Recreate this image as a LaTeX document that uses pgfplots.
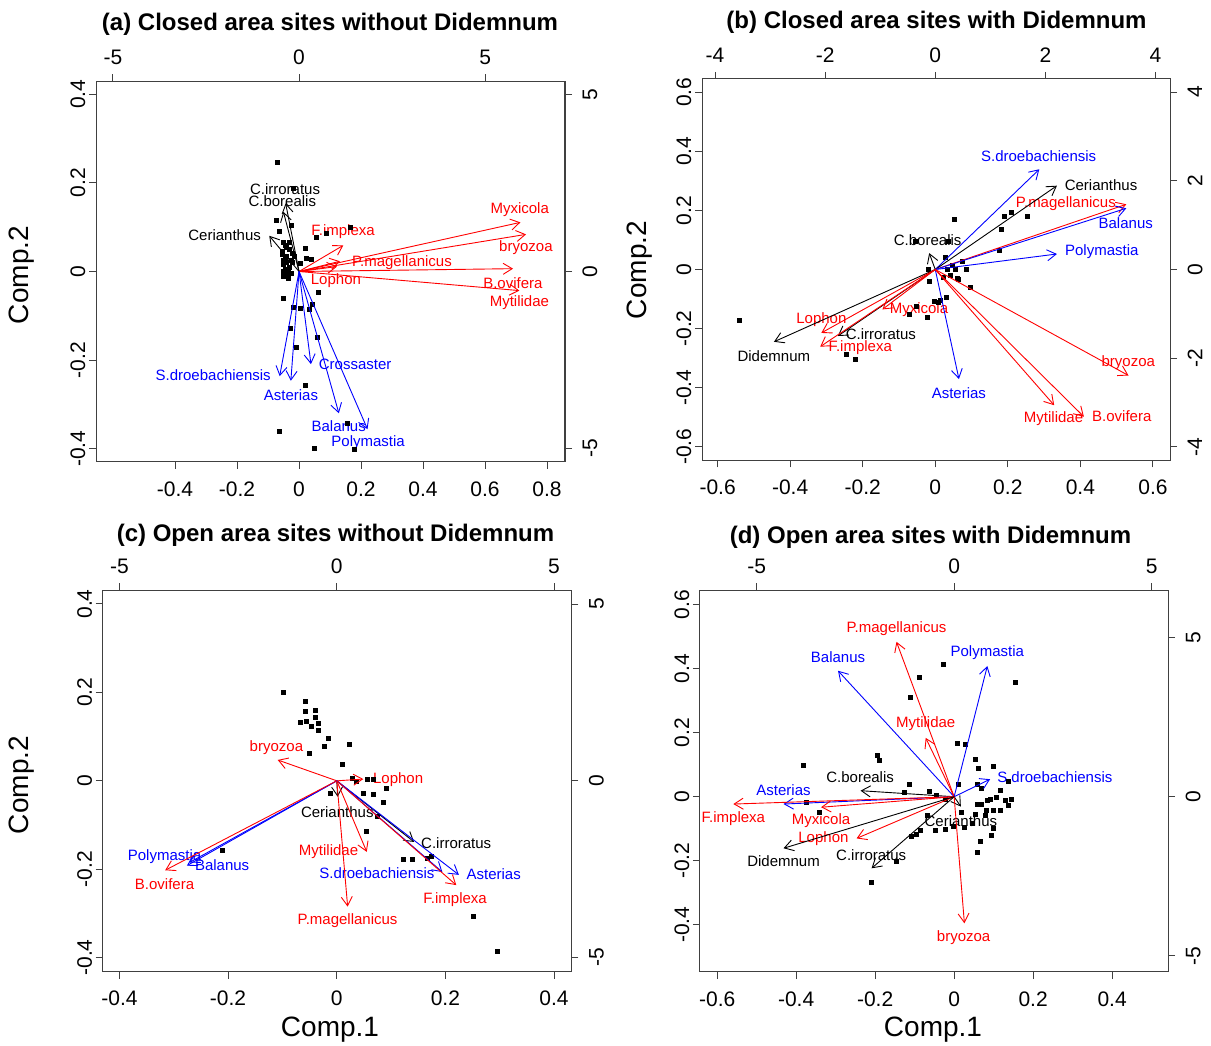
\documentclass[border=0pt]{standalone}
\usepackage{fontspec}
\setmainfont{Liberation Sans}
\usepackage{pgfplots}
\pgfplotsset{compat=1.18}
\usetikzlibrary{arrows.meta}

\pgfplotsset{
  biplot base/.style={
    scale only axis, clip=false, scaled ticks=false,
    tick align=outside, major tick length=3.5pt,
    axis line style={black!75, line width=0.5pt},
    every tick/.style={black!75, line width=0.5pt},
    tick label style={font=\fontsize{10.5}{12}\selectfont, inner sep=0pt},
    /pgf/number format/assume math mode=true,
  },
  comp axis/.style={biplot base,
    xtick pos=left, ytick pos=left,
    xticklabel style={anchor=center}, xticklabel shift=10pt,
    yticklabel style={rotate=90, anchor=center}, yticklabel shift=5.5pt,
  },
  load axis/.style={biplot base,
    axis x line*=top, axis y line*=right,
    xticklabel style={anchor=center}, xticklabel shift=8.5pt,
    yticklabel style={rotate=90, anchor=center}, yticklabel shift=9pt,
  },
  arr/.style={line width=0.45pt, -{Straight Barb[length=4.5pt,width=5.5pt]}},
  pts/.style={only marks, mark=square*, mark size=1pt, black},
}
\tikzset{lab/.style={font=\fontsize{7.5}{9}\selectfont, inner sep=0pt}}

\begin{document}
\begin{tikzpicture}
\path[use as bounding box] (0,0) rectangle (605.5pt,522.5pt);

% ---------- (a) ----------
\begin{axis}[comp axis, at={(48pt,291.5pt)}, anchor=south west,
  width=234.5pt, height=190.5pt,
  xmin=-0.655, xmax=0.858, ymin=-0.43, ymax=0.43,
  xtick={-0.4,-0.2,0,0.2,0.4,0.6,0.8}, ytick={-0.4,-0.2,0,0.2,0.4}]
\addplot[pts] coordinates {
 (-0.069,0.246) (-0.018,0.188) (-0.073,0.115) (-0.026,0.104) (0.166,0.099)
 (0.087,0.085) (0.057,0.076) (-0.063,0.090) (-0.051,0.066) (0.021,0.053)
 (0.023,0.030) (0.041,0.028) (0.005,0.019) (-0.026,-0.004) (-0.053,0.038)
 (-0.03,0.05) (-0.02,0.04) (-0.04,0.035) (-0.045,0.03) (-0.04,0.02)
 (-0.05,0.015) (-0.03,0.01) (-0.045,0.005) (-0.05,0.0) (-0.04,-0.005)
 (-0.05,-0.01) (-0.035,-0.015) (-0.025,0.025) (-0.015,0.035) (-0.055,0.045)
 (-0.04,0.055) (-0.03,0.065) (-0.02,0.02) (-0.035,0.0) (-0.045,0.06) (-0.05,0.025)
 (-0.051,-0.060) (-0.018,-0.080) (0.005,-0.083) (0.063,-0.047) (0.042,-0.075)
 (0.033,-0.086) (-0.029,-0.128) (0.058,-0.148) (-0.010,-0.171) (0.019,-0.258)
 (-0.063,-0.361) (0.156,-0.344) (0.050,-0.399) (0.180,-0.402)
};
\node[lab,red] at (axis cs:0.712,0.139) {Myxicola};
\node[lab,red] at (axis cs:0.732,0.054) {bryozoa};
\node[lab,red] at (axis cs:0.142,0.090) {F.implexa};
\node[lab,red] at (axis cs:0.332,0.020) {P.magellanicus};
\node[lab,red] at (axis cs:0.119,-0.021) {Lophon};
\node[lab,red] at (axis cs:0.69,-0.026) {B.ovifera};
\node[lab,red] at (axis cs:0.711,-0.071) {Mytilidae};
\node[lab] at (axis cs:-0.045,0.187) {C.irroratus};
\node[lab] at (axis cs:-0.054,0.159) {C.borealis};
\node[lab] at (axis cs:-0.24,0.081) {Cerianthus};
\node[lab,blue] at (axis cs:-0.277,-0.235) {S.droebachiensis};
\node[lab,blue] at (axis cs:-0.026,-0.28) {Asterias};
\node[lab,blue] at (axis cs:0.181,-0.209) {Crossaster};
\node[lab,blue] at (axis cs:0.128,-0.35) {Balanus};
\node[lab,blue] at (axis cs:0.223,-0.387) {Polymastia};
\end{axis}
\begin{axis}[load axis, at={(48pt,291.5pt)}, anchor=south west,
  width=234.5pt, height=190.5pt,
  xmin=-5.456, xmax=7.147, ymin=-5.388, ymax=5.388,
  xtick={-5,0,5}, ytick={-5,0,5}]
\addplot[arr,red] coordinates {(0,0) (5.95,1.39)};
\addplot[arr,red] coordinates {(0,0) (6.10,1.05)};
\addplot[arr,red] coordinates {(0,0) (1.19,0.74)};
\addplot[arr,red] coordinates {(0,0) (1.10,0.29)};
\addplot[arr,red] coordinates {(0,0) (1.02,0.14)};
\addplot[arr,red] coordinates {(0,0) (5.75,0.08)};
\addplot[arr,red] coordinates {(0,0) (5.92,-0.54)};
\addplot[arr,black] coordinates {(0,0) (-0.36,1.93)};
\addplot[arr,black] coordinates {(0,0) (-0.42,1.69)};
\addplot[arr,black] coordinates {(0,0) (-0.80,1.01)};
\addplot[arr,blue] coordinates {(0,0) (-0.52,-2.96)};
\addplot[arr,blue] coordinates {(0,0) (-0.22,-3.09)};
\addplot[arr,blue] coordinates {(0,0) (0.32,-2.62)};
\addplot[arr,blue] coordinates {(0,0) (1.07,-4.01)};
\addplot[arr,blue] coordinates {(0,0) (1.84,-4.46)};
\end{axis}

% ---------- (b) ----------
\begin{axis}[comp axis, at={(351pt,292.35pt)}, anchor=south west,
  width=234pt, height=190.65pt,
  xmin=-0.643, xmax=0.647, ymin=-0.646, ymax=0.645,
  xtick={-0.6,-0.4,-0.2,0,0.2,0.4,0.6}, ytick={-0.6,-0.4,-0.2,0,0.2,0.4,0.6}]
\addplot[pts] coordinates {
 (0.054,0.171) (0.19,0.181) (0.21,0.192) (0.253,0.179) (0.181,0.136) (0.176,0.064)
 (0.035,0.095) (-0.055,0.095)
 (-0.019,0.001) (0.027,0.041) (0.034,0.001) (0.046,0.015) (0.055,0.002) (0.075,0.026)
 (0.085,0.002) (0.021,-0.026) (0.043,-0.019) (0.06,-0.03) (0.064,-0.033) (-0.016,-0.041)
 (0.096,-0.06) (-0.003,-0.109) (0.014,-0.106) (0.03,-0.094) (0.009,-0.112)
 (-0.071,-0.152) (-0.023,-0.163) (-0.052,-0.126)
 (-0.54,-0.172) (-0.244,-0.287) (-0.22,-0.306)
};
\node[lab,blue] at (axis cs:0.285,0.385) {S.droebachiensis};
\node[lab] at (axis cs:0.457,0.286) {Cerianthus};
\node[lab,red] at (axis cs:0.36,0.224) {P.magellanicus};
\node[lab,blue] at (axis cs:0.525,0.158) {Balanus};
\node[lab,blue] at (axis cs:0.459,0.062) {Polymastia};
\node[lab] at (axis cs:-0.021,0.10) {C.borealis};
\node[lab] at (axis cs:-0.445,-0.293) {Didemnum};
\node[lab,red] at (axis cs:-0.314,-0.169) {Lophon};
\node[lab] at (axis cs:-0.15,-0.220) {C.irroratus};
\node[lab,red] at (axis cs:-0.207,-0.266) {F.implexa};
\node[lab,red] at (axis cs:-0.045,-0.137) {Myxicola};
\node[lab,blue] at (axis cs:0.065,-0.419) {Asterias};
\node[lab,red] at (axis cs:0.532,-0.314) {bryozoa};
\node[lab,red] at (axis cs:0.326,-0.506) {Mytilidae};
\node[lab,red] at (axis cs:0.514,-0.498) {B.ovifera};
\end{axis}
\begin{axis}[load axis, at={(351pt,292.35pt)}, anchor=south west,
  width=234pt, height=190.65pt,
  xmin=-4.237, xmax=4.264, ymin=-4.302, ymax=4.296,
  xtick={-4,-2,0,2,4}, ytick={-4,-2,0,2,4}]
\addplot[arr,blue] coordinates {(0,0) (1.89,2.26)};
\addplot[arr,black] coordinates {(0,0) (2.21,1.89)};
\addplot[arr,red] coordinates {(0,0) (3.47,1.47)};
\addplot[arr,blue] coordinates {(0,0) (3.47,1.38)};
\addplot[arr,blue] coordinates {(0,0) (2.21,0.35)};
\addplot[arr,black] coordinates {(0,0) (-0.11,0.37)};
\addplot[arr,black] coordinates {(0,0) (-2.93,-1.63)};
\addplot[arr,red] coordinates {(0,0) (-2.07,-1.43)};
\addplot[arr,black] coordinates {(0,0) (-1.77,-1.50)};
\addplot[arr,red] coordinates {(0,0) (-2.09,-1.74)};
\addplot[arr,red] coordinates {(0,0) (-0.96,-0.90)};
\addplot[arr,blue] coordinates {(0,0) (0.43,-2.47)};
\addplot[arr,red] coordinates {(0,0) (3.51,-2.39)};
\addplot[arr,red] coordinates {(0,0) (2.16,-3.06)};
\addplot[arr,red] coordinates {(0,0) (2.70,-3.32)};
\end{axis}

% ---------- (c) ----------
\begin{axis}[comp axis, at={(51.3pt,36.65pt)}, anchor=south west,
  width=234.4pt, height=190.7pt,
  xmin=-0.431, xmax=0.432, ymin=-0.432, ymax=0.431,
  xtick={-0.4,-0.2,0,0.2,0.4}, ytick={-0.4,-0.2,0,0.2,0.4}]
\addplot[pts] coordinates {
 (-0.099,0.199) (-0.058,0.18) (-0.058,0.157) (-0.04,0.159) (-0.067,0.133)
 (-0.056,0.135) (-0.046,0.122) (-0.04,0.143) (-0.034,0.13) (-0.034,0.115)
 (-0.015,0.097) (-0.023,0.078) (0.023,0.083) (-0.051,0.063) (0.01,0.038)
 (0.029,0.005) (0.037,-0.002) (0.056,0.002) (0.067,0.004) (-0.011,-0.029)
 (0.05,-0.029) (0.067,-0.031) (0.092,-0.017) (0.086,-0.05) (0.075,-0.081)
 (0.055,-0.115) (0.122,-0.178) (0.14,-0.178) (0.167,-0.176) (0.175,-0.172)
 (-0.21,-0.157) (0.251,-0.308) (0.296,-0.387)
};
\node[lab,red] at (axis cs:-0.111,0.076) {bryozoa};
\node[lab,red] at (axis cs:0.113,0.003) {Lophon};
\node[lab] at (axis cs:0.001,-0.07) {Cerianthus};
\node[lab] at (axis cs:0.22,-0.142) {C.irroratus};
\node[lab,red] at (axis cs:-0.015,-0.161) {Mytilidae};
\node[lab,blue] at (axis cs:0.074,-0.208) {S.droebachiensis};
\node[lab,blue] at (axis cs:0.289,-0.212) {Asterias};
\node[lab,red] at (axis cs:0.218,-0.268) {F.implexa};
\node[lab,red] at (axis cs:0.02,-0.317) {P.magellanicus};
\node[lab,blue] at (axis cs:-0.317,-0.172) {Polymastia};
\node[lab,blue] at (axis cs:-0.211,-0.191) {Balanus};
\node[lab,red] at (axis cs:-0.317,-0.234) {B.ovifera};
\end{axis}
\begin{axis}[load axis, at={(51.3pt,36.65pt)}, anchor=south west,
  width=234.4pt, height=190.7pt,
  xmin=-5.39, xmax=5.40, ymin=-5.40, ymax=5.39,
  xtick={-5,0,5}, ytick={-5,0,5}]
\addplot[arr,red] coordinates {(0,0) (-1.36,0.59)};
\addplot[arr,red] coordinates {(0,0) (0.61,0.05)};
\addplot[arr,black] coordinates {(0,0) (0.02,-0.45)};
\addplot[arr,black] coordinates {(0,0) (1.78,-1.73)};
\addplot[arr,red] coordinates {(0,0) (0.69,-2.01)};
\addplot[arr,blue] coordinates {(0,0) (2.43,-2.58)};
\addplot[arr,blue] coordinates {(0,0) (2.81,-2.66)};
\addplot[arr,red] coordinates {(0,0) (2.75,-2.95)};
\addplot[arr,red] coordinates {(0,0) (0.25,-3.56)};
\addplot[arr,blue] coordinates {(0,0) (-3.39,-2.31)};
\addplot[arr,blue] coordinates {(0,0) (-3.45,-2.40)};
\addplot[arr,red] coordinates {(0,0) (-3.95,-2.53)};
\end{axis}

% ---------- (d) ----------
\begin{axis}[comp axis, at={(349.9pt,36.5pt)}, anchor=south west,
  width=234.2pt, height=190.85pt,
  xmin=-0.644, xmax=0.542, ymin=-0.548, ymax=0.645,
  xtick={-0.6,-0.4,-0.2,0,0.2,0.4}, ytick={-0.4,-0.2,0,0.2,0.4,0.6}]
\addplot[pts] coordinates {
 (-0.026,0.412) (-0.087,0.372) (-0.11,0.309) (0.156,0.356) (0.009,0.165)
 (0.028,0.162) (0.053,0.118) (0.061,0.089) (0.1,0.096) (-0.194,0.13)
 (-0.19,0.113) (-0.381,0.099)
 (0.011,0.039) (0.059,0.039) (0.07,0.026) (0.137,0.047) (0.116,0.021)
 (0.108,-0.002) (0.091,-0.008) (0.084,-0.013) (0.059,-0.023) (0.068,-0.023)
 (0.129,-0.013) (0.146,-0.008) (0.137,-0.026) (0.019,-0.05) (0.081,-0.044)
 (0.078,-0.057) (0.099,-0.042) (0.116,-0.044) (0.053,-0.054) (-0.114,0.037)
 (-0.127,0.014) (-0.063,0.018) (-0.044,0.005) (-0.023,-0.007) (-0.048,-0.104)
 (-0.068,-0.059) (-0.023,-0.102) (-0.002,-0.092) (0.026,-0.096) (0.045,-0.083)
 (0.099,-0.099) (0.066,-0.141) (-0.086,-0.106) (-0.096,-0.117) (-0.107,-0.125)
 (0.059,-0.174) (0.095,-0.122) (-0.146,-0.203) (-0.209,-0.269) (-0.373,-0.018)
 (-0.342,-0.05)
};
\node[lab,red] at (axis cs:-0.146,0.526) {P.magellanicus};
\node[lab,blue] at (axis cs:-0.294,0.437) {Balanus};
\node[lab,blue] at (axis cs:0.084,0.451) {Polymastia};
\node[lab,red] at (axis cs:-0.072,0.227) {Mytilidae};
\node[lab,blue] at (axis cs:0.255,0.061) {S.droebachiensis};
\node[lab] at (axis cs:-0.238,0.061) {C.borealis};
\node[lab,blue] at (axis cs:-0.432,0.019) {Asterias};
\node[lab,red] at (axis cs:-0.559,-0.068) {F.implexa};
\node[lab,red] at (axis cs:-0.337,-0.076) {Myxicola};
\node[lab,red] at (axis cs:-0.331,-0.13) {Lophon};
\node[lab] at (axis cs:-0.432,-0.203) {Didemnum};
\node[lab] at (axis cs:-0.21,-0.184) {C.irroratus};
\node[lab] at (axis cs:0.017,-0.076) {Cerianthus};
\node[lab,red] at (axis cs:0.024,-0.439) {bryozoa};
\end{axis}
\begin{axis}[load axis, at={(349.9pt,36.5pt)}, anchor=south west,
  width=234.2pt, height=190.85pt,
  xmin=-6.44, xmax=5.42, ymin=-5.51, ymax=6.49,
  xtick={-5,0,5}, ytick={-5,0,5}]
\addplot[arr,red] coordinates {(0,0) (-1.46,4.87)};
\addplot[arr,blue] coordinates {(0,0) (-2.94,3.96)};
\addplot[arr,blue] coordinates {(0,0) (0.84,4.11)};
\addplot[arr,red] coordinates {(0,0) (-0.72,1.85)};
\addplot[arr,blue] coordinates {(0,0) (0.91,0.55)};
\addplot[arr,black] coordinates {(0,0) (-2.37,0.19)};
\addplot[arr,blue] coordinates {(0,0) (-4.32,-0.23)};
\addplot[arr,red] coordinates {(0,0) (-5.59,-0.23)};
\addplot[arr,red] coordinates {(0,0) (-3.37,-0.33)};
\addplot[arr,red] coordinates {(0,0) (-2.47,-1.31)};
\addplot[arr,black] coordinates {(0,0) (-4.32,-1.62)};
\addplot[arr,black] coordinates {(0,0) (-2.09,-2.25)};
\addplot[arr,black] coordinates {(0,0) (0.17,-0.31)};
\addplot[arr,red] coordinates {(0,0) (0.26,-3.98)};
\end{axis}

% titles and axis names
\node[font=\bfseries\fontsize{12}{14}\selectfont] at (165pt,510.5pt) {(a) Closed area sites without Didemnum};
\node[font=\bfseries\fontsize{12}{14}\selectfont] at (468.25pt,511.5pt) {(b) Closed area sites with Didemnum};
\node[font=\bfseries\fontsize{12}{14}\selectfont] at (167.75pt,255pt) {(c) Open area sites without Didemnum};
\node[font=\bfseries\fontsize{12}{14}\selectfont] at (465.25pt,254pt) {(d) Open area sites with Didemnum};
\node[rotate=90, font=\fontsize{14}{16}\selectfont] at (11pt,385pt) {Comp.2};
\node[rotate=90, font=\fontsize{14}{16}\selectfont] at (320pt,387.5pt) {Comp.2};
\node[rotate=90, font=\fontsize{14}{16}\selectfont] at (11pt,130pt) {Comp.2};
\node[font=\fontsize{14}{16}\selectfont] at (165pt,7.5pt) {Comp.1};
\node[font=\fontsize{14}{16}\selectfont] at (466.5pt,7.5pt) {Comp.1};
\end{tikzpicture}
\end{document}
